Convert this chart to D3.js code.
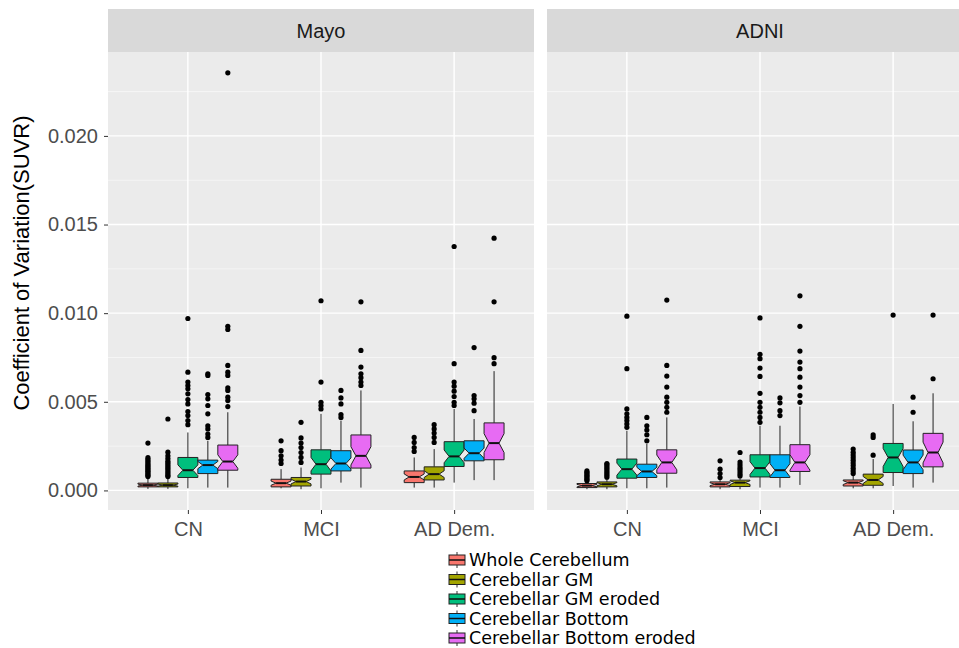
<!DOCTYPE html>
<html><head><meta charset="utf-8">
<script src="https://cdn.jsdelivr.net/npm/d3@7"></script>
<style>body{margin:0;background:#fff}</style>
</head><body><svg id="c" width="959" height="648"></svg>
<script>
const panels = ["Mayo", "ADNI"];
const groups = ["CN", "MCI", "AD Dem."];
const regions = ["Whole Cerebellum", "Cerebellar GM", "Cerebellar GM eroded", "Cerebellar Bottom", "Cerebellar Bottom eroded"];
const colors = ["#F8766D", "#A3A500", "#00BF7D", "#00B0F6", "#E76BF3"];
const yTicks = [0, 0.005, 0.01, 0.015, 0.02];
const yMinor = [0.0025, 0.0075, 0.0125, 0.0175, 0.0225];
const unit = 0.001;

// per group, per region: [lower whisker, q1, median, q3, upper whisker] (x 0.001)
const mayoStats = [
  [[0.085,0.20,0.30,0.41,0.70],[0.085,0.20,0.30,0.42,0.72],[0.12,0.73,1.14,1.86,3.27],[0.16,0.95,1.43,1.71,2.80],[0.16,1.14,1.63,2.56,4.41]],
  [[0.12,0.20,0.41,0.63,1.20],[0.07,0.25,0.50,0.73,1.29],[0.12,0.92,1.48,2.29,4.32],[0.44,1.10,1.52,2.24,3.94],[0.16,1.26,1.95,3.13,5.64]],
  [[0.16,0.44,0.76,1.10,1.86],[0.16,0.59,0.92,1.33,2.33],[0.44,1.35,1.92,2.75,4.60],[0.58,1.67,2.10,2.80,4.03],[0.58,1.73,2.67,3.81,6.73]]
];
const mayoOutliers = [
  [[0.78,0.85,0.92,1.0,1.08,1.15,1.22,1.3,1.38,1.45,1.55,1.65,1.75,1.85,2.67],
   [0.78,0.85,0.95,1.05,1.15,1.25,1.35,1.45,1.55,1.65,1.8,1.95,2.16,4.03],
   [3.71,3.94,4.22,4.45,4.88,5.13,5.45,5.73,5.92,6.11,6.67,9.7],
   [2.99,3.18,3.47,3.65,4.32,4.79,5.17,5.41,6.49,6.58],
   [4.73,5.07,5.26,5.64,5.79,6.49,6.67,7.05,9.08,9.26,23.56]],
  [[1.52,1.71,1.95,2.24,2.8],
   [1.58,1.86,2.14,2.42,2.67,2.96,3.84],
   [4.6,4.79,4.97,6.11,10.7],
   [4.12,4.28,4.88,5.22,5.64],
   [5.92,6.11,6.36,6.58,6.96,7.9,10.64]],
  [[2.2,2.42,2.71,2.99],
   [2.71,2.99,3.24,3.47,3.71],
   [4.79,4.97,5.3,5.6,5.88,6.11,7.15,13.76],
   [4.5,4.92,5.17,5.35,8.06],
   [7.15,7.49,10.64,14.23]]
];
const adniStats = [
  [[0.07,0.16,0.27,0.39,0.50],[0.07,0.20,0.35,0.48,0.68],[0.12,0.69,1.20,1.77,3.37],[0.12,0.73,1.07,1.48,2.62],[0.16,0.97,1.58,2.29,4.12]],
  [[0.07,0.20,0.35,0.48,0.65],[0.07,0.22,0.44,0.58,0.75],[0.16,0.76,1.26,2.01,3.65],[0.16,0.73,1.14,2.01,3.65],[0.31,1.07,1.58,2.58,4.73]],
  [[0.12,0.25,0.44,0.59,0.85],[0.12,0.29,0.59,0.92,1.77],[0.25,1.01,1.86,2.65,4.88],[0.16,0.95,1.58,2.28,3.90],[0.44,1.33,2.14,3.22,5.48]]
];
const adniOutliers = [
  [[0.55,0.62,0.7,0.78,0.86,0.94,1.02,1.1],
   [0.75,0.85,0.95,1.05,1.15,1.25,1.35,1.45,1.52],
   [3.56,3.75,3.94,4.12,4.32,4.6,6.87,9.83],
   [2.8,3.14,3.41,3.65,4.12],
   [4.41,4.69,4.97,5.26,5.83,6.45,7.05,10.74]],
  [[0.73,0.95,1.2,1.67],
   [0.82,0.92,1.05,1.18,1.3,1.45,1.6,2.14],
   [3.84,4.12,4.41,4.69,4.97,5.48,6.43,6.9,7.43,7.68,9.73],
   [4.22,4.5,4.94,5.22],
   [4.97,5.35,5.83,6.39,6.87,7.24,7.86,9.26,10.98]],
  [[0.95,1.1,1.25,1.4,1.55,1.7,1.85,2.0,2.15,2.33],
   [1.99,2.99,3.13],
   [9.89],
   [4.41,5.26],
   [6.3,9.89]]
];
// approximate subjects per group (drives notch size)
const mayoN = [35, 33, 38];
const adniN = [25, 30, 26];

const statsByPanel = [mayoStats, adniStats];
const outByPanel = [mayoOutliers, adniOutliers];
const nByPanel = [mayoN, adniN];

const svg = d3.select("#c");
const panelW = 426, panelGap = 13, pLeft = 108, pTop = 52, pBottom = 510, stripTop = 9;

// y scale with ggplot-like 5% expansion
const allVals = [];
statsByPanel.forEach(ps => ps.forEach(g => g.forEach(s => allVals.push(...s))));
outByPanel.forEach(ps => ps.forEach(g => g.forEach(o => allVals.push(...o))));
const vmin = d3.min(allVals) * unit, vmax = d3.max(allVals) * unit;
const ex = (vmax - vmin) * 0.05;
const y = d3.scaleLinear().domain([vmin - ex, vmax + ex]).range([pBottom, pTop]);

panels.forEach((pname, p) => {
  const x0 = pLeft + p * (panelW + panelGap);
  const g = svg.append("g");
  const x = d3.scalePoint().domain(groups).range([x0, x0 + panelW]).padding(0.6);
  const step = x.step();
  const dx = d3.scaleBand().domain(regions).range([-0.375 * step, 0.375 * step]);
  const bw = dx.bandwidth();

  // strip
  g.append("rect").attr("x", x0).attr("y", stripTop).attr("width", panelW).attr("height", pTop - stripTop).attr("fill", "#D9D9D9");
  g.append("text").attr("x", x0 + panelW / 2).attr("y", (stripTop + pTop) / 2 + 7).attr("text-anchor", "middle")
    .attr("font-family", "Liberation Sans, Arial, sans-serif").attr("font-size", 20).attr("fill", "#1a1a1a").text(pname);

  // panel
  g.append("rect").attr("x", x0).attr("y", pTop).attr("width", panelW).attr("height", pBottom - pTop).attr("fill", "#EBEBEB");
  yMinor.forEach(v => g.append("line").attr("x1", x0).attr("x2", x0 + panelW).attr("y1", y(v)).attr("y2", y(v)).attr("stroke", "#F7F7F7").attr("stroke-width", 0.8));
  yTicks.forEach(v => g.append("line").attr("x1", x0).attr("x2", x0 + panelW).attr("y1", y(v)).attr("y2", y(v)).attr("stroke", "#fff").attr("stroke-width", 1.4));
  groups.forEach(c => g.append("line").attr("x1", x(c)).attr("x2", x(c)).attr("y1", pTop).attr("y2", pBottom).attr("stroke", "#fff").attr("stroke-width", 1.4));

  // boxes
  groups.forEach((c, gi) => {
    regions.forEach((r, ri) => {
      const s = statsByPanel[p][gi][ri].map(v => v * unit);
      const [lo, q1, med, q3, hi] = s;
      const cx = x(c) + dx(r) + bw / 2;
      const xl = cx - bw / 2, xr = cx + bw / 2, inset = bw * 0.25;
      const nh = 1.58 * (q3 - q1) / Math.sqrt(nByPanel[p][gi]);
      const nu = med + nh, nl = med - nh;
      g.append("line").attr("x1", cx).attr("x2", cx).attr("y1", y(lo)).attr("y2", y(q1)).attr("stroke", "#222").attr("stroke-width", 1);
      g.append("line").attr("x1", cx).attr("x2", cx).attr("y1", y(q3)).attr("y2", y(hi)).attr("stroke", "#222").attr("stroke-width", 1);
      const pts = [[xl, y(q3)], [xr, y(q3)], [xr, y(nu)], [xr - inset, y(med)], [xr, y(nl)], [xr, y(q1)],
                   [xl, y(q1)], [xl, y(nl)], [xl + inset, y(med)], [xl, y(nu)]];
      g.append("path").attr("d", d3.line()(pts) + "Z").attr("fill", colors[ri]).attr("stroke", "#222").attr("stroke-width", 1);
      g.append("line").attr("x1", xl + inset).attr("x2", xr - inset).attr("y1", y(med)).attr("y2", y(med)).attr("stroke", "#111").attr("stroke-width", 2);
      outByPanel[p][gi][ri].forEach(o => {
        g.append("circle").attr("cx", cx).attr("cy", y(o * unit)).attr("r", 2.6).attr("fill", "#000");
      });
    });
  });

  // x axis
  const xa = g.append("g").attr("transform", `translate(0,${pBottom})`).call(d3.axisBottom(x).tickSize(4).tickPadding(8));
  xa.select(".domain").remove();
  xa.selectAll("line").attr("stroke", "#333");
  xa.selectAll("text").attr("font-family", "Liberation Sans, Arial, sans-serif").attr("font-size", 20).attr("fill", "#4d4d4d");

  if (p === 0) {
    const ya = g.append("g").attr("transform", `translate(${x0},0)`).call(d3.axisLeft(y).tickValues(yTicks).tickFormat(d3.format(".3f")).tickSize(4).tickPadding(6));
    ya.select(".domain").remove();
    ya.selectAll("line").attr("stroke", "#333");
    ya.selectAll("text").attr("font-family", "Liberation Sans, Arial, sans-serif").attr("font-size", 20).attr("fill", "#4d4d4d");
  }
});

// y title
svg.append("text").attr("transform", "translate(29,263) rotate(-90)").attr("text-anchor", "middle")
  .attr("font-family", "Liberation Sans, Arial, sans-serif").attr("font-size", 22).attr("fill", "#000")
  .text("Coefficient of Variation(SUVR)");

// legend
const lg = svg.append("g");
regions.forEach((r, i) => {
  const cy = 560 + i * 19.5;
  const kx = 457;
  lg.append("line").attr("x1", kx).attr("x2", kx).attr("y1", cy - 8).attr("y2", cy + 8).attr("stroke", "#333");
  lg.append("rect").attr("x", kx - 8).attr("y", cy - 5).attr("width", 16).attr("height", 10).attr("fill", colors[i]).attr("stroke", "#222");
  lg.append("line").attr("x1", kx - 8).attr("x2", kx + 8).attr("y1", cy).attr("y2", cy).attr("stroke", "#111").attr("stroke-width", 1.5);
  lg.append("text").attr("x", 469).attr("y", cy + 6).attr("font-family", "DejaVu Sans, sans-serif").attr("font-size", 17.5).attr("fill", "#000").text(r);
});
</script></body></html>
